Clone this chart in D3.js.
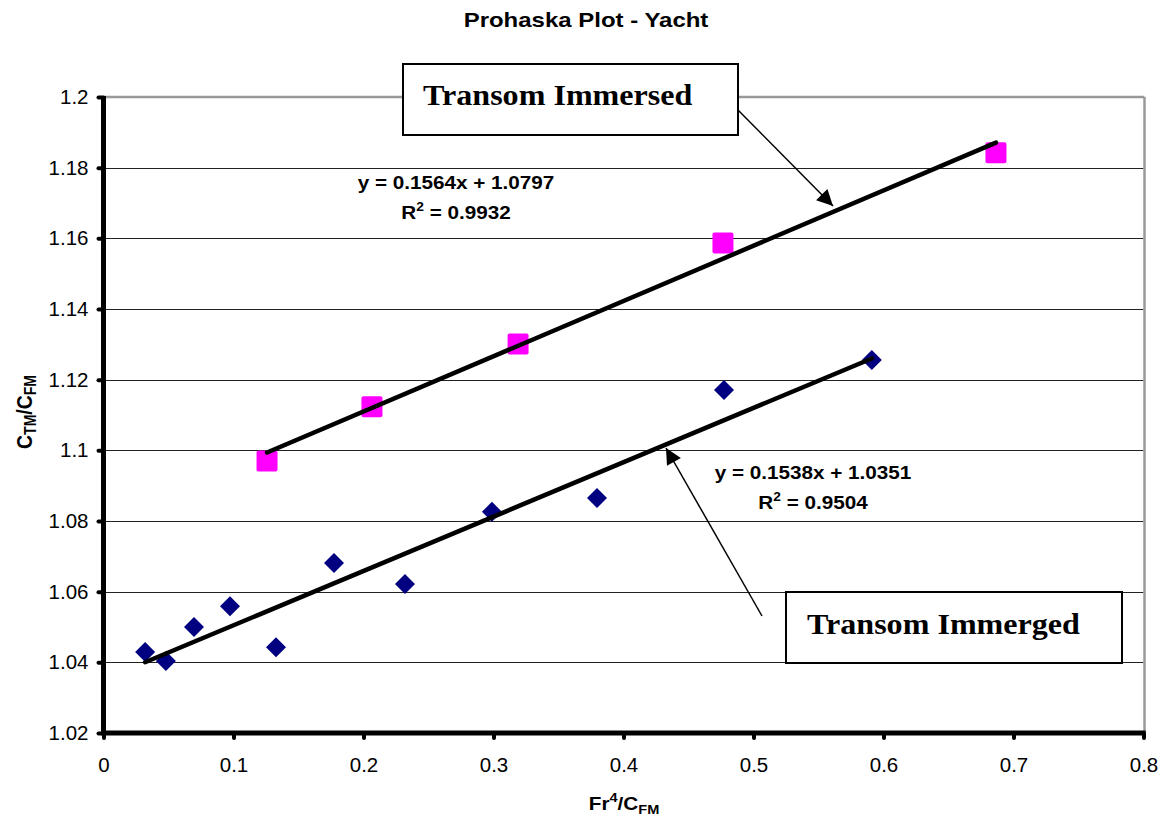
<!DOCTYPE html>
<html>
<head>
<meta charset="utf-8">
<script src="https://cdn.jsdelivr.net/npm/d3@7"></script>
<style>
  body { margin: 0; background: #fff; }
</style>
</head>
<body>
<div id="chart"></div>
<script>
// data
const immergedX = [0.032, 0.048, 0.0696, 0.0973, 0.1327, 0.1773, 0.2319, 0.2988, 0.3796, 0.4773, 0.591];
const immergedY = [1.0429, 1.0404, 1.0500, 1.0559, 1.0443, 1.0681, 1.0622, 1.0826, 1.0865, 1.1171, 1.1256];
const immersedX = [0.1258, 0.2065, 0.3189, 0.4765, 0.6865];
const immersedY = [1.0970, 1.1123, 1.1301, 1.1587, 1.1842];

// trendlines (slope, intercept) as printed on the chart
const immersedFit = [0.1564, 1.0797];
const immergedFit = [0.1538, 1.0351];
const immersedEq = ["y = 0.1564x + 1.0797", "0.9932"];
const immergedEq = ["y = 0.1538x + 1.0351", "0.9504"];

const xTicks = [0, 0.1, 0.2, 0.3, 0.4, 0.5, 0.6, 0.7, 0.8];
const yTicks = [1.02, 1.04, 1.06, 1.08, 1.1, 1.12, 1.14, 1.16, 1.18, 1.2];

const W = 1173, H = 825;
const sans = "Arial, 'Liberation Sans', sans-serif";
const serif = "'Liberation Serif', 'Times New Roman', serif";

const svg = d3.select("#chart").append("svg")
  .attr("width", W).attr("height", H)
  .attr("font-family", sans);

const x = d3.scaleLinear().domain([0, 0.8]).range([103.5, 1143.5]);
const y = d3.scaleLinear().domain([1.02, 1.2]).range([733, 97]);

// the original chart is a bit wider than tall, so text is stretched sideways
function stretched(px, py, sx) {
  return svg.append("text")
    .attr("transform", "translate(" + px + "," + py + ") scale(" + sx + ",1)");
}

// title
stretched(586, 27, 1.17)
  .attr("text-anchor", "middle")
  .attr("font-size", 20.5).attr("font-weight", "bold")
  .text("Prohaska Plot - Yacht");

// gridlines
svg.append("g").selectAll("line")
  .data(yTicks.slice(1, -1))
  .enter().append("line")
  .attr("x1", x(0)).attr("x2", x(0.8))
  .attr("y1", d => Math.round(y(d)) + 0.5).attr("y2", d => Math.round(y(d)) + 0.5)
  .attr("stroke", "#222").attr("stroke-width", 1);

// top and right frame (grey)
svg.append("line")
  .attr("x1", x(0)).attr("x2", x(0.8) + 1)
  .attr("y1", y(1.2)).attr("y2", y(1.2))
  .attr("stroke", "#999").attr("stroke-width", 2.5);
svg.append("line")
  .attr("x1", x(0.8) + 1).attr("x2", x(0.8) + 1)
  .attr("y1", y(1.2)).attr("y2", y(1.02))
  .attr("stroke", "#999").attr("stroke-width", 2.5);

// axes
let yAxis = d3.axisLeft(y).tickValues(yTicks).tickSize(5).tickPadding(10).tickFormat(d3.format("~g"));
let yg = svg.append("g").attr("transform", "translate(" + x(0) + ",0)").call(yAxis);
let xAxis = d3.axisBottom(x).tickValues(xTicks).tickSize(5).tickPadding(19).tickFormat(d3.format("~g"));
let xg = svg.append("g").attr("transform", "translate(0," + y(1.02) + ")").call(xAxis);

[yg, xg].forEach(g => {
  g.select(".domain").remove();
  g.attr("font-family", sans).attr("font-size", 20.5);
  g.selectAll(".tick line").attr("stroke", "#000").attr("stroke-width", 4).attr("stroke-linecap", "round");
  g.selectAll(".tick text").attr("fill", "#000");
});

svg.append("line")
  .attr("x1", x(0)).attr("x2", x(0))
  .attr("y1", y(1.2) - 1).attr("y2", y(1.02) + 2)
  .attr("stroke", "#000").attr("stroke-width", 5);
svg.append("line")
  .attr("x1", x(0) - 2).attr("x2", x(0.8) + 2)
  .attr("y1", y(1.02)).attr("y2", y(1.02))
  .attr("stroke", "#000").attr("stroke-width", 5);

// axis titles
let yt = svg.append("text")
  .attr("transform", "translate(32,412) rotate(-90) scale(1,1.12)")
  .attr("text-anchor", "middle")
  .attr("font-size", 19.5).attr("font-weight", "bold");
yt.append("tspan").text("C");
yt.append("tspan").attr("font-size", 14).attr("dy", 4).text("TM");
yt.append("tspan").attr("dy", -4).text("/C");
yt.append("tspan").attr("font-size", 14).attr("dy", 4).text("FM");

let xt = stretched(624, 810, 1.12)
  .attr("text-anchor", "middle")
  .attr("font-size", 18.5).attr("font-weight", "bold");
xt.append("tspan").text("Fr");
xt.append("tspan").attr("font-size", 13).attr("dy", -8).text("4");
xt.append("tspan").attr("dy", 8).text("/C");
xt.append("tspan").attr("font-size", 13).attr("dy", 4).text("FM");

// markers
const immerged = immergedX.map((v, i) => [v, immergedY[i]]);
const immersed = immersedX.map((v, i) => [v, immersedY[i]]);

svg.append("g").selectAll("path")
  .data(immerged)
  .enter().append("path")
  .attr("d", d3.symbol().type(d3.symbolSquare).size(200))
  .attr("transform", d => "translate(" + x(d[0]) + "," + y(d[1]) + ") rotate(45)")
  .attr("fill", "#000080");

svg.append("g").selectAll("rect")
  .data(immersed)
  .enter().append("rect")
  .attr("x", d => x(d[0]) - 10.5).attr("y", d => y(d[1]) - 10.5)
  .attr("width", 21).attr("height", 21).attr("rx", 2)
  .attr("fill", "#ff00ff");

// trendlines
function fitLine(fit, xs) {
  let x0 = d3.min(xs), x1 = d3.max(xs);
  return [[x0, fit[0] * x0 + fit[1]], [x1, fit[0] * x1 + fit[1]]];
}
let line = d3.line().x(d => x(d[0])).y(d => y(d[1]));
[[immersedFit, immersedX], [immergedFit, immergedX]].forEach(p => {
  svg.append("path")
    .attr("d", line(fitLine(p[0], p[1])))
    .attr("stroke", "#000").attr("stroke-width", 4.5).attr("stroke-linecap", "round")
    .attr("fill", "none");
});

// equation labels
function eqLabel(eq, cx, cy) {
  stretched(cx, cy, 1.15)
    .attr("text-anchor", "middle")
    .attr("font-size", 18).attr("font-weight", "bold")
    .text(eq[0]);
  let r = stretched(cx, cy + 30, 1.15)
    .attr("text-anchor", "middle")
    .attr("font-size", 18).attr("font-weight", "bold");
  r.append("tspan").text("R");
  r.append("tspan").attr("font-size", 12).attr("dy", -8).text("2");
  r.append("tspan").attr("dy", 8).text(" = " + eq[1]);
}
eqLabel(immersedEq, 456, 189);
eqLabel(immergedEq, 813, 479);

// annotation boxes and arrows
svg.append("defs").append("marker")
  .attr("id", "head")
  .attr("viewBox", "0 0 10 10")
  .attr("refX", 10).attr("refY", 5)
  .attr("markerUnits", "userSpaceOnUse")
  .attr("markerWidth", 22).attr("markerHeight", 16)
  .attr("orient", "auto")
  .append("path").attr("d", "M0,0 L10,5 L0,10 z").attr("fill", "#000");

function callout(label, bx, by, bw, bh, tx, ty, ax1, ay1, ax2, ay2) {
  svg.append("line")
    .attr("x1", ax1).attr("y1", ay1).attr("x2", ax2).attr("y2", ay2)
    .attr("stroke", "#000").attr("stroke-width", 1.5)
    .attr("marker-end", "url(#head)");
  svg.append("rect")
    .attr("x", bx).attr("y", by).attr("width", bw).attr("height", bh)
    .attr("fill", "#fff").attr("stroke", "#000").attr("stroke-width", 2);
  stretched(tx, ty, 1.07)
    .attr("font-family", serif)
    .attr("font-size", 30).attr("font-weight", "bold")
    .text(label);
}
callout("Transom Immersed", 403, 64, 335, 71, 423, 105, 737, 109, 833, 206);
callout("Transom Immerged", 786, 592, 336, 71, 807, 634, 762, 616, 666, 448);
</script>
</body>
</html>
